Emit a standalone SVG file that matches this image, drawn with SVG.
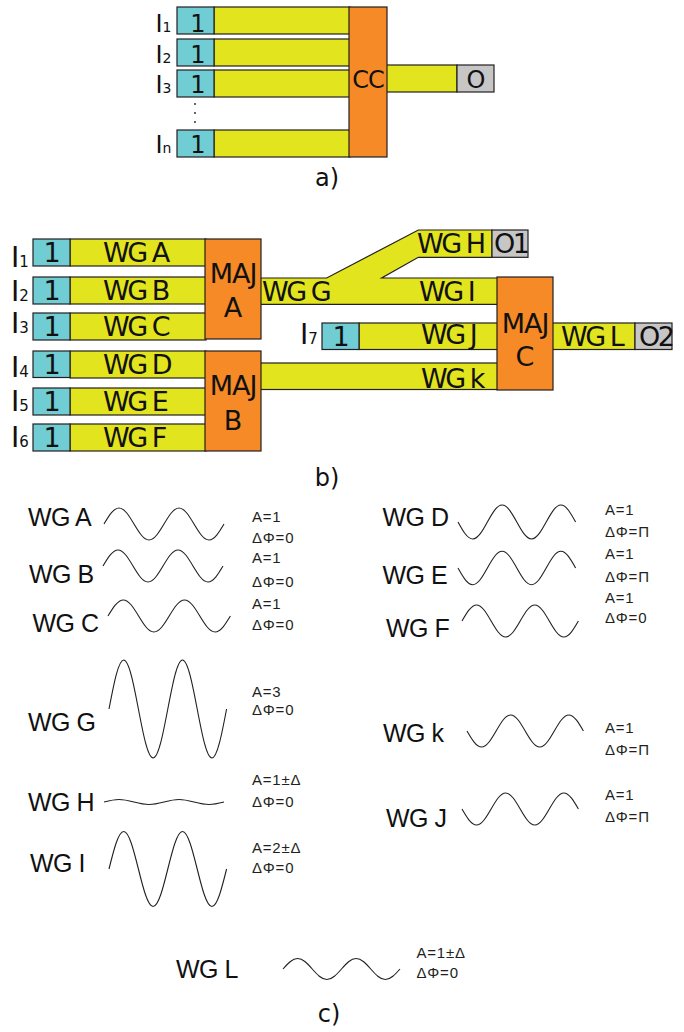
<svg xmlns="http://www.w3.org/2000/svg" xmlns:xlink="http://www.w3.org/1999/xlink" width="684" height="1032" viewBox="0 0 684 1032">
<style>
.cy{fill:#71CDD4;stroke:#231F20;stroke-width:1.2}
.ye{fill:#E2E41E;stroke:#231F20;stroke-width:1.2}
.or{fill:#F58A26;stroke:#231F20;stroke-width:1.2}
.gr{fill:#C6C6C6;stroke:#231F20;stroke-width:1.2}
.t{font-family:"DejaVu Sans",sans-serif;fill:#111}
.ta{font-size:24px}
.tb{font-size:27px}
.wg{letter-spacing:-2.5px}
.c{text-anchor:middle}
.cl{font-family:"Liberation Sans",Arial,sans-serif;font-size:25px;fill:#111;letter-spacing:-0.5px}
.cs{font-family:"Liberation Sans",Arial,sans-serif;font-size:15px;fill:#231F20;letter-spacing:0.8px}
.wv{fill:none;stroke:#231F20;stroke-width:1.1}
</style>
<defs>
<path id="w" vector-effect="non-scaling-stroke" d="M0,0 C4.89,-5.12 9.57,-10 15,-10 C25.9,-10 34.1,10 45,10 C55.9,10 64.1,-10 75,-10 C85.9,-10 94.1,10 105,10 C110.43,10 115.11,5.12 120,0"/>
</defs>

<!-- ===== a) ===== -->
<g id="a-connectors">
<rect class="ye" x="214" y="7" width="136" height="27"/>
<rect class="ye" x="214" y="39" width="136" height="27"/>
<rect class="ye" x="214" y="70" width="136" height="27"/>
<rect class="ye" x="214" y="130" width="136" height="27"/>
<rect class="ye" x="386" y="65" width="71" height="27"/>
</g>
<g id="a-in1"><rect class="cy" x="177" y="7" width="37" height="27"/><text class="t ta c" x="198" y="31.5">1</text><text class="t ta" x="155.5" y="31.5">I<tspan font-size="14">1</tspan></text></g>
<g id="a-in2"><rect class="cy" x="177" y="39" width="37" height="27"/><text class="t ta c" x="198" y="63.3">1</text><text class="t ta" x="155.5" y="63.3">I<tspan font-size="14">2</tspan></text></g>
<g id="a-in3"><rect class="cy" x="177" y="70" width="37" height="27"/><text class="t ta c" x="198" y="93">1</text><text class="t ta" x="155.5" y="93">I<tspan font-size="14">3</tspan></text></g>
<g id="a-dots"><circle cx="195" cy="104" r="0.9" fill="#231F20"/><circle cx="195" cy="113" r="0.9" fill="#231F20"/><circle cx="195" cy="122" r="0.9" fill="#231F20"/></g>
<g id="a-inn"><rect class="cy" x="177" y="130" width="37" height="27"/><text class="t ta c" x="198" y="153">1</text><text class="t ta" x="155.5" y="153">I<tspan font-size="14">n</tspan></text></g>
<g id="a-cc"><rect class="or" x="349" y="7" width="38" height="150"/><text class="t ta c" x="368" y="88" letter-spacing="-1">CC</text></g>
<g id="a-o"><rect class="gr" x="457" y="65" width="37" height="27"/><text class="t ta c" x="476" y="88">O</text></g>
<text class="t c" font-size="24" x="327" y="186">a)</text>

<!-- ===== b) ===== -->
<g id="b-connectors">
<rect class="ye" x="70" y="239" width="136" height="27"/>
<rect class="ye" x="70" y="277" width="136" height="27"/>
<rect class="ye" x="70" y="313" width="136" height="27"/>
<rect class="ye" x="70" y="351" width="136" height="27"/>
<rect class="ye" x="70" y="388" width="136" height="27"/>
<rect class="ye" x="70" y="424" width="136" height="27"/>
<polygon class="ye" points="260,278 326.7,278 418.3,230 492,230 492,257.3 418.3,257.3 381.7,278 498,278 498,304.3 260,304.3"/>
<rect class="ye" x="359" y="323" width="139" height="26.5"/>
<rect class="ye" x="260" y="363" width="238" height="26.5"/>
<rect class="ye" x="552" y="323" width="83" height="26.5"/>
<text class="t tb wg" x="103" y="262">WG A</text>
<text class="t tb wg" x="103" y="299.5">WG B</text>
<text class="t tb wg" x="103" y="336">WG C</text>
<text class="t tb wg" x="103" y="373.5">WG D</text>
<text class="t tb wg" x="103" y="411">WG E</text>
<text class="t tb wg" x="103" y="447">WG F</text>
<text class="t tb wg" x="262" y="300.5">WG G</text>
<text class="t tb wg" x="417" y="252.5">WG H</text>
<text class="t tb wg" x="419" y="300.5">WG I</text>
<text class="t tb wg" x="421" y="344">WG J</text>
<text class="t tb wg" x="421" y="388">WG k</text>
<text class="t tb wg" x="561" y="345.5">WG L</text>
</g>
<g id="b-in1"><rect class="cy" x="33" y="239" width="37" height="27"/><text class="t tb c" x="52" y="262">1</text><text class="t" font-size="28" x="11" y="266.5">I<tspan font-size="15">1</tspan></text></g>
<g id="b-in2"><rect class="cy" x="33" y="277" width="37" height="27"/><text class="t tb c" x="52" y="300">1</text><text class="t" font-size="28" x="11" y="301">I<tspan font-size="15">2</tspan></text></g>
<g id="b-in3"><rect class="cy" x="33" y="313" width="37" height="27"/><text class="t tb c" x="52" y="336">1</text><text class="t" font-size="28" x="11" y="333">I<tspan font-size="15">3</tspan></text></g>
<g id="b-in4"><rect class="cy" x="33" y="351" width="37" height="26.5"/><text class="t tb c" x="52" y="374">1</text><text class="t" font-size="28" x="11" y="376.5">I<tspan font-size="15">4</tspan></text></g>
<g id="b-in5"><rect class="cy" x="33" y="388" width="37" height="27"/><text class="t tb c" x="52" y="411">1</text><text class="t" font-size="28" x="11" y="411">I<tspan font-size="15">5</tspan></text></g>
<g id="b-in6"><rect class="cy" x="33" y="424" width="37" height="27"/><text class="t tb c" x="52" y="447">1</text><text class="t" font-size="28" x="11" y="447">I<tspan font-size="15">6</tspan></text></g>
<g id="b-in7"><rect class="cy" x="322" y="323" width="37" height="26.5"/><text class="t tb c" x="341" y="346">1</text><text class="t" font-size="28" x="300" y="344">I<tspan font-size="15">7</tspan></text></g>
<g id="b-majA"><rect class="or" x="205" y="239" width="56" height="100"/><text class="t tb c" x="233" y="283" letter-spacing="-1">MAJ</text><text class="t tb c" x="233" y="317">A</text></g>
<g id="b-majB"><rect class="or" x="205" y="351" width="56" height="100"/><text class="t tb c" x="233" y="395" letter-spacing="-1">MAJ</text><text class="t tb c" x="233" y="430">B</text></g>
<g id="b-majC"><rect class="or" x="497" y="277" width="56" height="113"/><text class="t tb c" x="525" y="333" letter-spacing="-1">MAJ</text><text class="t tb c" x="525" y="366">C</text></g>
<g id="b-o1"><rect class="gr" x="492" y="230" width="36" height="27.3"/><text class="t tb wg" x="494" y="252.5">O1</text></g>
<g id="b-o2"><rect class="gr" x="635" y="323" width="37" height="26.5"/><text class="t tb wg" x="639" y="345.5">O2</text></g>
<text class="t c" font-size="24" x="327" y="486">b)</text>

<!-- ===== c) ===== -->
<g id="c-WGA"><text class="cl" x="28" y="526">WG A</text><use href="#w" class="wv" transform="translate(104,524) scale(1,1.6)"/><text class="cs" x="252" y="521.7">A=1</text><text class="cs" x="252" y="543.3">ΔΦ=0</text></g>
<g id="c-WGB"><text class="cl" x="29" y="582.7">WG B</text><use href="#w" class="wv" transform="translate(103,566) scale(1,1.6)"/><text class="cs" x="252" y="563">A=1</text><text class="cs" x="252" y="586.7">ΔΦ=0</text></g>
<g id="c-WGC"><text class="cl" x="32.5" y="631.7">WG C</text><use href="#w" class="wv" transform="translate(108,616) scale(1.02,1.6)"/><text class="cs" x="252" y="609.3">A=1</text><text class="cs" x="252" y="630">ΔΦ=0</text></g>
<g id="c-WGG"><text class="cl" x="28" y="731">WG G</text><use href="#w" class="wv" transform="translate(109,709) scale(0.98,4.9)"/><text class="cs" x="252" y="696.7">A=3</text><text class="cs" x="252" y="715">ΔΦ=0</text></g>
<g id="c-WGH"><text class="cl" x="28" y="810.7">WG H</text><use href="#w" class="wv" transform="translate(104,802) scale(1,0.25)"/><text class="cs" x="252" y="785">A=1±Δ</text><text class="cs" x="252" y="806.7">ΔΦ=0</text></g>
<g id="c-WGI"><text class="cl" x="30" y="871.7">WG I</text><use href="#w" class="wv" transform="translate(109,869) scale(0.98,3.75)"/><text class="cs" x="252" y="853.3">A=2±Δ</text><text class="cs" x="252" y="872.7">ΔΦ=0</text></g>
<g id="c-WGD"><text class="cl" x="382.5" y="526">WG D</text><use href="#w" class="wv" transform="translate(458,522) scale(0.98,-1.7)"/><text class="cs" x="605" y="515">A=1</text><text class="cs" x="605" y="536.7">ΔΦ=Π</text></g>
<g id="c-WGE"><text class="cl" x="382.5" y="584.3">WG E</text><use href="#w" class="wv" transform="translate(458,568) scale(0.98,-1.67)"/><text class="cs" x="605" y="559">A=1</text><text class="cs" x="605" y="581.7">ΔΦ=Π</text></g>
<g id="c-WGF"><text class="cl" x="386" y="636.7">WG F</text><use href="#w" class="wv" transform="translate(462,621) scale(0.97,1.6)"/><text class="cs" x="605" y="603.3">A=1</text><text class="cs" x="605" y="623.3">ΔΦ=0</text></g>
<g id="c-WGk"><text class="cl" x="383" y="742.3">WG k</text><use href="#w" class="wv" transform="translate(467,731) scale(0.97,-1.6)"/><text class="cs" x="605" y="733.3">A=1</text><text class="cs" x="605" y="755">ΔΦ=Π</text></g>
<g id="c-WGJ"><text class="cl" x="386" y="826.7">WG J</text><use href="#w" class="wv" transform="translate(462,809) scale(0.97,-1.6)"/><text class="cs" x="605" y="800">A=1</text><text class="cs" x="605" y="821.7">ΔΦ=Π</text></g>
<g id="c-WGL"><text class="cl" x="176" y="978.3">WG L</text><use href="#w" class="wv" transform="translate(283,969) scale(0.975,1.05)"/><text class="cs" x="416.5" y="958">A=1±Δ</text><text class="cs" x="416.5" y="978.3">ΔΦ=0</text></g>
<text class="t c" font-size="24" x="329" y="1022">c)</text>
</svg>
